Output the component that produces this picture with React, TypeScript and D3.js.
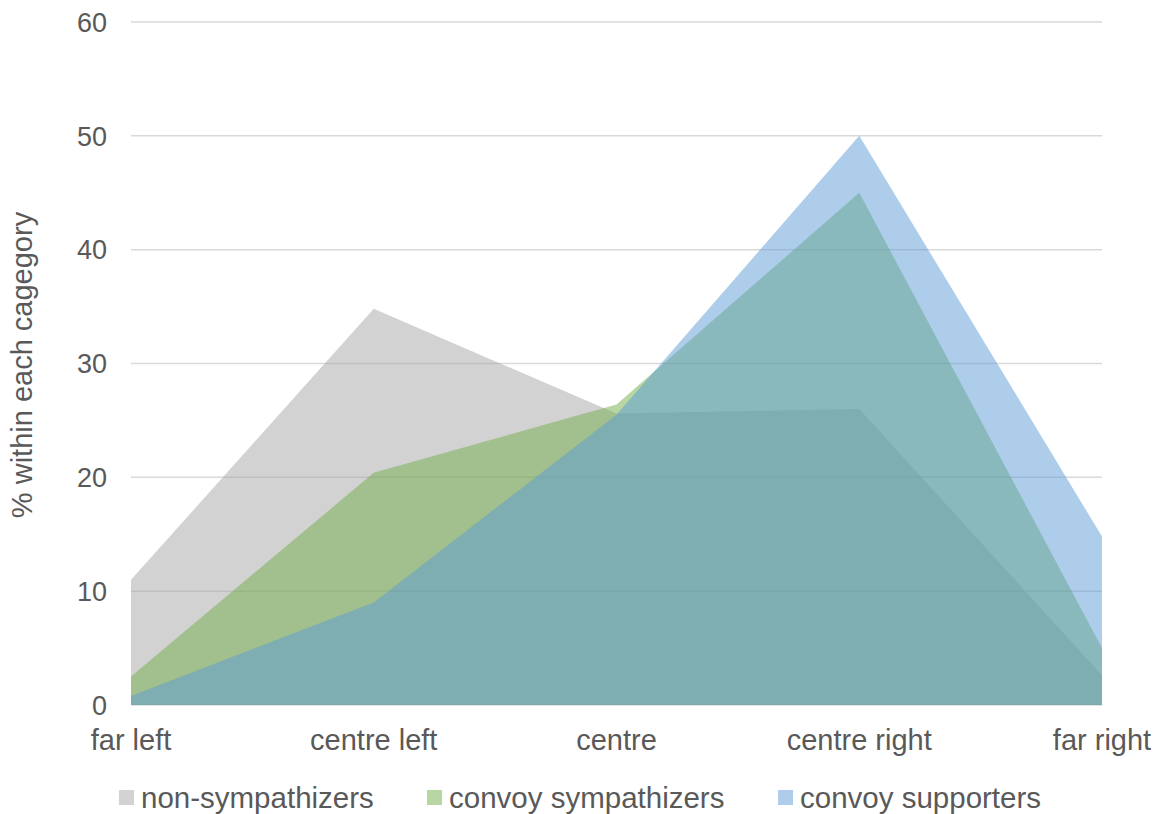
import React from "react";
import * as d3 from "d3";

const categories = ["far left", "centre left", "centre", "centre right", "far right"];
const nonSympathizers = [11, 34.8, 25.6, 26, 2.6];
const convoySympathizers = [2.5, 20.4, 26.4, 45, 5];
const convoySupporters = [0.8, 9, 25.5, 50, 14.8];
const yTicks = [0, 10, 20, 30, 40, 50, 60];

const seriesList = [
  { name: "non-sympathizers", values: nonSympathizers, color: "#A5A5A5" },
  { name: "convoy sympathizers", values: convoySympathizers, color: "#70AD47" },
  { name: "convoy supporters", values: convoySupporters, color: "#5B9BD5" },
];

const W = 1159;
const H = 814;
const FONT = "'Liberation Sans', Arial, sans-serif";
const TEXT = "#595959";

export default function App() {
  const x = d3.scalePoint<string>().domain(categories).range([131, 1102]);
  const y = d3.scaleLinear().domain([0, 60]).range([705, 22]);

  const area = d3
    .area<number>()
    .x((_, i) => x(categories[i]) as number)
    .y0(y(0))
    .y1((d) => y(d));

  const legendX = [119, 427, 778];

  return (
    <div style={{ position: "fixed", left: 0, top: 0 }}>
      <svg width={W} height={H} style={{ display: "block", background: "#fff" }}>
        {yTicks.map((t) => (
          <line key={t} x1={131} x2={1102} y1={y(t)} y2={y(t)} stroke="#d9d9d9" strokeWidth={1.5} />
        ))}
        {seriesList.map((s) => (
          <path key={s.name} d={area(s.values) ?? ""} fill={s.color} fillOpacity={0.5} />
        ))}
        {yTicks.map((t) => (
          <text key={t} x={107} y={y(t)} dy="0.36em" textAnchor="end" fontFamily={FONT} fontSize={27} fill={TEXT}>
            {t}
          </text>
        ))}
        {categories.map((c) => (
          <text key={c} x={x(c)} y={750} textAnchor="middle" fontFamily={FONT} fontSize={29} fill={TEXT}>
            {c}
          </text>
        ))}
        <text
          transform={`translate(32,365) rotate(-90)`}
          textAnchor="middle"
          fontFamily={FONT}
          fontSize={29}
          fill={TEXT}
        >
          % within each cagegory
        </text>
        {seriesList.map((s, i) => (
          <g key={s.name} transform={`translate(${legendX[i]},0)`}>
            <rect x={0} y={790} width={15} height={15} fill={s.color} fillOpacity={0.5} />
            <text x={22} y={808} fontFamily={FONT} fontSize={29.5} fill={TEXT}>
              {s.name}
            </text>
          </g>
        ))}
      </svg>
    </div>
  );
}
